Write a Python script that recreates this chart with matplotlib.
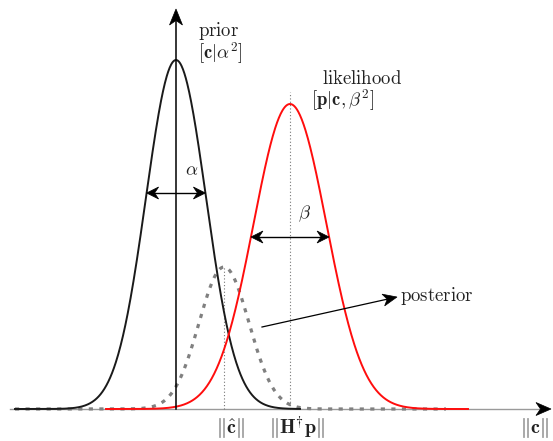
import numpy as np
import matplotlib
matplotlib.use("Agg")
import matplotlib.pyplot as plt
from matplotlib.patches import Polygon

plt.rcParams["mathtext.fontset"] = "cm"

# Gaussian components of the sketch: centre, spread, peak height, drawn extent
names = ["prior", "likelihood", "posterior"]
centres = [0.0, 114.0, 48.0]
spreads = [30.0, 36.5, 25.0]
peaks = [349.0, 305.0, 142.0]
extents = [(-161.0, 124.0), (-70.0, 292.0), (-161.0, 270.0)]
colors = ["#1a1a1a", "#ff0d0d", "#808080"]

# heights at which the width arrows (alpha, beta) are drawn
width_heights = [216.0, 172.0]
width_symbols = [r"$\alpha$", r"$\beta$"]

# labels
dist_labels = [r"$[\mathbf{c}|\alpha^2]$", r"$[\mathbf{p}|\mathbf{c},\beta^2]$"]
axis_label = r"$\|\mathbf{c}\|$"
mean_labels = [r"$\|\hat{\mathbf{c}}\|$", r"$\|\mathbf{H}^{\dagger}\mathbf{p}\|$"]

TXT = "#222222"
FS = 13.5
FS_AX = 14.5


def gauss(x, mu, s, a):
    return a * np.exp(-0.5 * ((x - mu) / s) ** 2)


def stealth(ax, tip, direction, length=14.0, half=6.0, notch=4.0, color="black"):
    d = np.asarray(direction, float)
    d /= np.linalg.norm(d)
    n = np.array([-d[1], d[0]])
    tip = np.asarray(tip, float)
    back = tip - d * length
    pts = [tip, back + n * half, tip - d * (length - notch), back - n * half]
    ax.add_patch(Polygon(pts, closed=True, facecolor=color, edgecolor=color,
                         lw=0.5, zorder=6))


fig = plt.figure(figsize=(5.53, 4.41), dpi=100)
ax = fig.add_axes([0, 0, 1, 1])
ax.set_xlim(-176, 377)
ax.set_ylim(-32, 409)
ax.axis("off")

# axes of the sketch
ax.plot([-166, 366], [0, 0], color="#9a9a9a", lw=1.0, zorder=1)
stealth(ax, (375, 0), (1, 0), length=15, half=6.5, notch=4.5)
ax.plot([0, 0], [0, 390], color="black", lw=1.1, zorder=5)
stealth(ax, (0, 400), (0, 1), length=16, half=6.5, notch=4.5)

# curves
for i, name in enumerate(names):
    lo, hi = extents[i]
    xs = np.linspace(lo, hi, 600)
    ys = gauss(xs, centres[i], spreads[i], peaks[i])
    if name == "posterior":
        ax.plot(xs, ys, color=colors[i], lw=2.3, ls=(0, (1.3, 2.0)),
                zorder=3)
    else:
        ax.plot(xs, ys, color=colors[i], lw=1.4, zorder=4)

# dotted guides at the posterior and likelihood means
ax.plot([centres[2], centres[2]], [0, peaks[2]], color="#777777", lw=0.8,
        ls=(0, (1, 2)), zorder=2)
ax.plot([centres[1], centres[1]], [0, peaks[1] + 12], color="#777777", lw=0.8,
        ls=(0, (1, 2)), zorder=2)

# width arrows
sym_offsets = [(16, 239), (129, 195)]
for i in range(2):
    h = width_heights[i]
    hw = spreads[i] * np.sqrt(2 * np.log(peaks[i] / h))
    x0, x1 = centres[i] - hw, centres[i] + hw
    ax.plot([x0 + 6, x1 - 6], [h, h], color="black", lw=1.0, zorder=5)
    stealth(ax, (x0, h), (-1, 0), length=12, half=6, notch=4)
    stealth(ax, (x1, h), (1, 0), length=12, half=6, notch=4)
    ax.text(*sym_offsets[i], width_symbols[i], fontsize=FS, color=TXT,
            ha="center", va="center")

# distribution labels
ax.text(43, 378, r"$\mathrm{prior}$", fontsize=FS, color=TXT, ha="center", va="center")
ax.text(44, 356, dist_labels[0], fontsize=FS, color=TXT, ha="center", va="center")
ax.text(186, 331, r"$\mathrm{likelihood}$", fontsize=FS, color=TXT, ha="center", va="center")
ax.text(167, 309, dist_labels[1], fontsize=FS, color=TXT, ha="center", va="center")

# posterior pointer
p0 = np.array([86.0, 82.0])
p1 = np.array([221.0, 112.0])
ax.plot([p0[0], p1[0] - 10], [p0[1], p0[1] + (p1[1] - p0[1]) * (1 - 10 / (p1[0] - p0[0]))],
        color="black", lw=0.9, zorder=5)
stealth(ax, p1, p1 - p0, length=14, half=6, notch=4)
ax.text(224, 113, r"$\mathrm{posterior}$", fontsize=FS, color=TXT, ha="left", va="center")

# axis labels
ax.text(centres[2] + 6, -19, mean_labels[0], fontsize=FS_AX, color=TXT, ha="center", va="center")
ax.text(centres[1] + 7, -19, mean_labels[1], fontsize=FS_AX, color=TXT, ha="center", va="center")
ax.text(358, -19, axis_label, fontsize=FS_AX, color=TXT, ha="center", va="center")

fig.savefig("out.png", dpi=100)
